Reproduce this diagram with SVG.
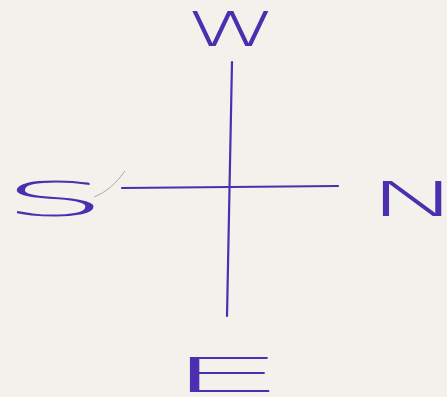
<svg xmlns="http://www.w3.org/2000/svg" width="447" height="397" viewBox="0 0 447 397">
<style>
.lt{font-family:"DejaVu Sans ExtraLight","DejaVu Sans",sans-serif;font-weight:200;font-size:48px;fill:#4b2fae}
.ln{stroke:#4b2fae;stroke-width:2.2;fill:none;stroke-linecap:round}
</style>
<rect width="447" height="397" fill="#f3f1ec"/>
<g id="connectors">
<line class="ln" x1="232" y1="62" x2="227" y2="316"/>
<line class="ln" x1="122" y1="188" x2="338" y2="186"/>
<path d="M94 197 Q112 190 125 171" stroke="#9a9890" stroke-width="0.8" fill="none"/>
</g>
<g id="north-w"><text class="lt" x="186" y="46" textLength="91" lengthAdjust="spacingAndGlyphs">W</text></g>
<g id="west-s"><text class="lt" x="2" y="216" textLength="105" lengthAdjust="spacingAndGlyphs">S</text></g>
<g id="east-n"><text class="lt" x="368" y="216" textLength="92" lengthAdjust="spacingAndGlyphs">N</text></g>
<g id="south-e"><text class="lt" x="167" y="392" textLength="119" lengthAdjust="spacingAndGlyphs">E</text></g>
</svg>
